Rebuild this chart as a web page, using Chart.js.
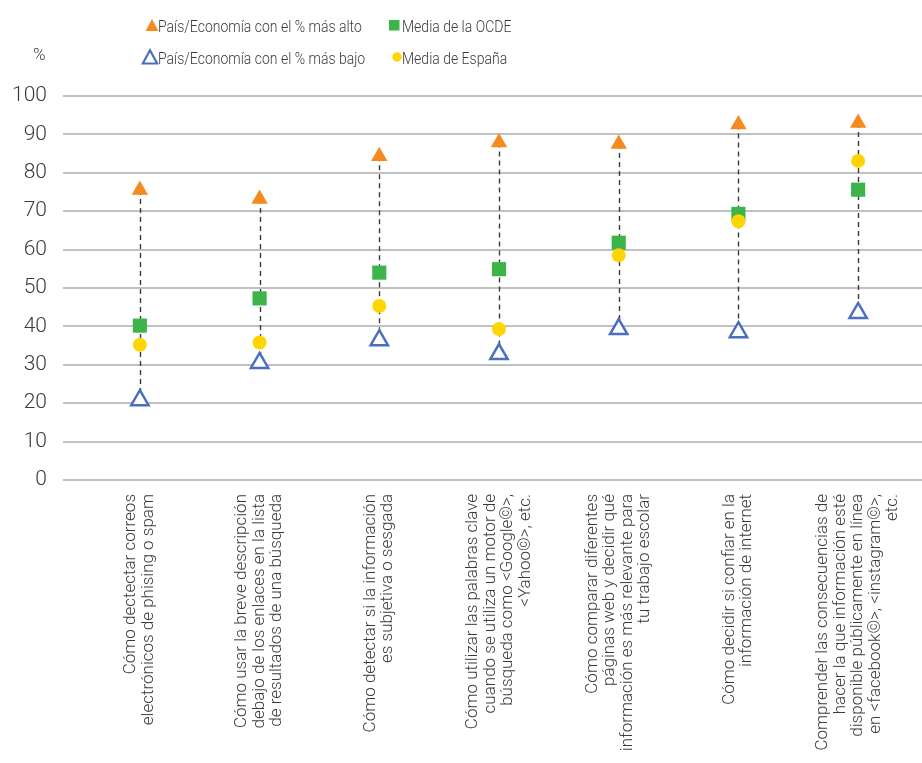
<!DOCTYPE html>
<html>
<head>
<meta charset="utf-8">
<script src="https://cdn.jsdelivr.net/npm/chart.js@4.4.1/dist/chart.umd.min.js"></script>
<style>
  html, body { margin: 0; padding: 0; background: #fff; }
  #wrap { position: relative; width: 922px; height: 763px; overflow: hidden; }
  #chart { position: absolute; left: 0; top: 0; }
  .txt { position: absolute; font-family: Roboto, sans-serif; font-weight: 300; color: #3a3a3a; font-size: 14px; white-space: nowrap; line-height: 20px; }
  .legend-item svg { position: absolute; }
  .legend-item span { transform: scaleY(1.12); transform-origin: left center; display: inline-block; }
</style>
</head>
<body>
<div id="wrap">
  <canvas id="chart" width="922" height="763"></canvas>
  <div class="txt" style="left:33px; top:44px; font-size:17px;">%</div>
  <div class="txt legend-item" style="left:145px; top:16px;">
    <svg width="14" height="14" style="left:0; top:2px;"><polygon points="7,1 13.5,13 0.5,13" fill="#f58a1f"/></svg>
    <span style="position:absolute; left:13px; top:0;">País/Economía con el % más alto</span>
  </div>
  <div class="txt legend-item" style="left:389px; top:16px;">
    <svg width="11" height="11" style="left:0; top:4px;"><rect x="0" y="0" width="10.5" height="10.5" fill="#3cb44a"/></svg>
    <span style="position:absolute; left:13px; top:0;">Media de la OCDE</span>
  </div>
  <div class="txt legend-item" style="left:141px; top:48px;">
    <svg width="18" height="18" style="left:0; top:0;"><polygon points="9,2.2 16.2,15.5 1.8,15.5" fill="none" stroke="#4a6fbf" stroke-width="2.2"/></svg>
    <span style="position:absolute; left:17px; top:0;">País/Economía con el % más bajo</span>
  </div>
  <div class="txt legend-item" style="left:392px; top:48px;">
    <svg width="11" height="11" style="left:0; top:4px;"><circle cx="5" cy="5" r="4.7" fill="#ffd500"/></svg>
    <span style="position:absolute; left:10px; top:0;">Media de España</span>
  </div>
</div>
<script>
const categories = [
  ['Cómo dectectar correos', 'electrónicos de phising o spam'],
  ['Cómo usar la breve descripción', 'debajo de los enlaces en la lista', 'de resultados de una búsqueda'],
  ['Cómo detectar si la información', 'es subjetiva o sesgada'],
  ['Cómo utilizar las palabras clave', 'cuando se utiliza un motor de', 'búsqueda como <Google©>,', '<Yahoo©>, etc.'],
  ['Cómo comparar diferentes', 'páginas web y decidir qué', 'información es más relevante para', 'tu trabajo escolar'],
  ['Cómo decidir si confiar en la', 'información de internet'],
  ['Comprender las consecuencias de', 'hacer la que información esté', 'disponible públicamente en línea', 'en <facebook©>, <instagram©>,', 'etc.']
];

const highest = [75.5, 73.2, 84.3, 87.9, 87.5, 92.6, 93.0];
const oecdMean = [40.2, 47.3, 54.0, 54.9, 61.8, 69.3, 75.6];
const spainMean = [35.2, 35.8, 45.3, 39.3, 58.5, 67.4, 83.1];
const lowest = [20.8, 30.5, 36.4, 32.8, 39.3, 38.5, 43.5];

const yTicks = [0, 10, 20, 30, 40, 50, 60, 70, 80, 90, 100];

const GRID_LEFT = 63;
const LABEL_GAP = 14;
const LABEL_LINE = 17.5;

// horizontal grid lines that start left of the plot area, and the dashed range lines
const backdrop = {
  id: 'backdrop',
  beforeDatasetsDraw(chart) {
    const { ctx, scales: { x, y } } = chart;
    ctx.save();
    ctx.strokeStyle = '#ababab';
    ctx.lineWidth = 1.6;
    yTicks.forEach(t => {
      const py = Math.round(y.getPixelForValue(t));
      ctx.beginPath();
      ctx.moveTo(GRID_LEFT, py);
      ctx.lineTo(chart.width, py);
      ctx.stroke();
    });
    ctx.strokeStyle = '#3a3a3a';
    ctx.lineWidth = 1.4;
    ctx.setLineDash([5, 4]);
    highest.forEach((h, i) => {
      const px = Math.round(x.getPixelForValue(i)) + 0.5;
      ctx.beginPath();
      ctx.moveTo(px, y.getPixelForValue(h));
      ctx.lineTo(px, y.getPixelForValue(lowest[i]));
      ctx.stroke();
    });
    ctx.restore();
  },
  // vertical category labels, each block centred on its category
  afterDraw(chart) {
    const { ctx, chartArea, scales: { x } } = chart;
    ctx.save();
    ctx.fillStyle = '#3a3a3a';
    ctx.font = '300 17px Roboto';
    ctx.textAlign = 'right';
    ctx.textBaseline = 'middle';
    categories.forEach((lines, i) => {
      const cx = x.getPixelForValue(i);
      lines.forEach((line, j) => {
        const lx = cx + (j - (lines.length - 1) / 2) * LABEL_LINE;
        ctx.save();
        ctx.translate(lx, chartArea.bottom + LABEL_GAP);
        ctx.rotate(-Math.PI / 2);
        ctx.fillText(line, 0, 0);
        ctx.restore();
      });
    });
    ctx.restore();
  }
};

const ctx = document.getElementById('chart');
new Chart(ctx, {
  type: 'line',
  data: {
    labels: categories,
    datasets: [
      {
        label: 'País/Economía con el % más alto',
        data: highest,
        showLine: false,
        pointStyle: 'triangle',
        pointRadius: 9.5,
        backgroundColor: '#f58a1f',
        borderColor: '#f58a1f',
        borderWidth: 0,
        order: 2
      },
      {
        label: 'País/Economía con el % más bajo',
        data: lowest,
        showLine: false,
        pointStyle: 'triangle',
        pointRadius: 10,
        backgroundColor: '#ffffff',
        borderColor: '#4a6fbf',
        pointBorderWidth: 2.5,
        order: 3
      },
      {
        label: 'Media de la OCDE',
        data: oecdMean,
        showLine: false,
        pointStyle: 'rect',
        pointRadius: 10,
        backgroundColor: '#3cb44a',
        borderColor: '#3cb44a',
        pointBorderWidth: 0,
        order: 1
      },
      {
        label: 'Media de España',
        data: spainMean,
        showLine: false,
        pointStyle: 'circle',
        pointRadius: 7,
        backgroundColor: '#ffd500',
        borderColor: '#ffd500',
        pointBorderWidth: 0,
        order: 0
      }
    ]
  },
  options: {
    responsive: false,
    animation: false,
    layout: { autoPadding: false, padding: { top: 96, right: 4, left: 0, bottom: 0 } },
    plugins: {
      legend: { display: false },
      tooltip: { enabled: false }
    },
    scales: {
      x: {
        offset: true,
        grid: { display: false, drawTicks: false, offset: true },
        border: { display: false },
        afterFit: (scale) => {
          scale.height = 283;
          scale.paddingLeft = 0;
          scale.paddingRight = 0;
        },
        ticks: { display: false }
      },
      y: {
        min: 0,
        max: 100,
        grid: { display: false, drawTicks: false },
        border: { display: false },
        afterFit: (scale) => { scale.width = 80; },
        ticks: {
          stepSize: 10,
          padding: 33,
          color: '#3a3a3a',
          font: { family: 'Roboto', weight: 300, size: 21 }
        }
      }
    }
  },
  plugins: [backdrop]
});
</script>
</body>
</html>
